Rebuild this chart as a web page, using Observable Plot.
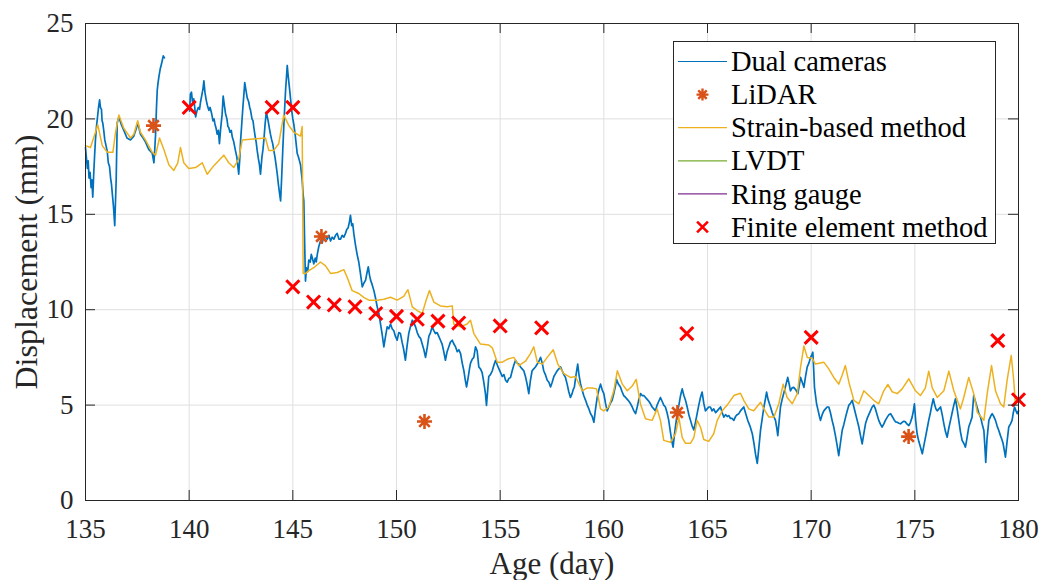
<!DOCTYPE html>
<html><head><meta charset="utf-8">
<script src="https://cdn.jsdelivr.net/npm/d3@7"></script>
<script src="https://cdn.jsdelivr.net/npm/@observablehq/plot@0.6"></script>
<style>
body{margin:0;background:#fff;}
#chart{position:relative;width:1043px;height:580px;}
</style>
</head><body><div id="chart"></div>
<script>
// ---------- data ----------
const xTicks = [135, 140, 145, 150, 155, 160, 165, 170, 175, 180];
const yTicks = [0, 5, 10, 15, 20, 25];

const dualDays = [135.00,135.05,135.09,135.13,135.17,135.22,135.27,135.31,135.35,135.40,135.44,135.48,135.53,135.58,135.63,135.68,135.72,135.77,135.80,135.83,135.88,135.93,135.99,136.05,136.10,136.16,136.21,136.25,136.30,136.35,136.41,136.45,136.48,136.53,136.61,136.73,136.85,137.00,137.17,137.33,137.45,137.52,137.65,137.78,137.89,138.05,138.22,138.30,138.34,138.38,138.42,138.46,138.50,138.54,138.60,138.67,138.71,138.75,138.81,139.40,
140.02,140.06,140.11,140.16,140.22,140.27,140.31,140.37,140.44,140.50,140.55,140.62,140.67,140.71,140.76,140.82,140.88,140.95,141.01,141.08,141.15,141.20,141.24,141.30,141.35,141.41,141.46,141.52,141.59,141.64,141.70,141.75,141.82,141.87,141.91,141.97,142.03,142.08,142.15,142.23,142.30,142.35,142.39,142.44,142.48,142.54,142.59,142.64,142.68,142.74,142.80,142.87,142.92,142.96,143.03,143.08,143.12,143.18,143.23,143.28,143.34,143.39,143.44,143.51,143.56,143.60,143.66,143.72,143.77,143.81,143.87,143.92,143.98,144.03,144.08,144.14,144.19,144.25,144.30,144.36,144.41,144.46,144.52,144.58,144.65,144.70,144.73,144.78,144.84,144.89,144.95,145.00,145.05,145.11,145.16,145.21,145.27,145.32,145.37,145.41,145.45,145.50,145.53,145.58,
145.61,145.66,145.72,145.77,145.84,145.89,145.93,146.01,146.08,146.13,146.18,146.25,146.33,146.42,146.50,146.58,146.66,146.74,146.82,146.90,146.98,147.06,147.14,147.22,147.30,147.38,147.46,147.54,147.60,147.67,147.73,147.78,147.84,147.89,147.94,148.02,148.10,148.18,148.26,148.35,148.43,148.51,148.57,148.64,148.70,148.75,148.83,148.91,148.99,149.07,149.15,149.23,149.31,149.39,149.47,149.55,149.63,149.71,149.79,149.87,149.95,150.03,150.11,150.19,150.27,150.35,150.43,150.51,150.59,150.67,150.76,150.84,150.92,151.00,151.08,151.16,151.24,151.32,151.40,151.48,151.56,151.64,151.72,151.80,151.88,151.96,152.04,152.12,152.20,152.28,152.36,152.44,152.52,152.60,152.69,152.77,152.85,152.93,153.01,153.09,153.17,153.25,153.32,153.38,153.45,153.52,153.57,153.65,153.73,153.81,153.89,153.97,
154.05,154.13,154.21,154.29,154.34,154.40,154.45,154.53,154.62,154.70,154.78,154.86,154.94,155.02,155.10,155.18,155.26,155.34,155.42,155.50,155.58,155.66,155.74,155.82,155.90,155.98,156.06,156.14,156.22,156.30,156.38,156.46,156.54,156.62,156.70,156.79,156.87,156.95,157.03,157.10,157.18,157.27,157.35,157.43,157.51,157.59,157.67,157.75,157.83,157.91,157.99,158.07,158.15,158.23,158.31,158.39,158.47,158.52,158.58,158.66,158.74,158.80,158.87,158.95,159.03,159.12,159.20,159.28,159.36,159.44,159.52,159.60,159.68,159.76,159.84,159.92,160.00,160.08,160.16,160.24,160.32,160.40,160.48,160.56,160.61,160.70,160.80,160.88,160.96,161.05,161.13,161.21,161.29,161.37,161.45,161.53,161.61,161.69,161.77,161.85,161.93,162.01,162.09,162.17,162.25,162.33,162.41,162.49,162.57,162.65,162.73,162.81,162.89,162.97,163.05,163.13,163.21,163.28,163.34,163.40,163.47,163.54,163.62,163.70,163.78,163.86,163.94,
164.02,164.10,164.18,164.26,164.34,164.42,164.50,164.58,164.66,164.74,164.82,164.90,164.98,165.06,165.14,165.22,165.30,165.39,165.47,165.55,165.63,165.71,165.79,165.87,165.95,166.03,166.11,166.19,166.27,166.35,166.43,166.51,166.59,166.67,166.75,166.83,166.94,167.05,167.16,167.24,167.32,167.40,167.48,167.56,167.64,167.72,167.79,167.85,167.92,167.98,168.04,168.12,168.20,168.28,168.34,168.39,168.45,168.52,168.60,168.65,168.71,168.79,168.87,168.94,169.00,169.08,169.16,169.26,169.36,169.42,169.49,169.57,169.65,169.73,169.81,169.89,169.97,170.02,170.08,170.12,170.16,170.21,170.26,170.34,170.40,170.45,170.53,170.61,170.69,170.77,170.85,170.93,171.01,171.09,171.17,171.25,171.33,171.41,171.50,171.58,171.66,171.74,171.82,171.90,171.98,
172.06,172.14,172.22,172.30,172.38,172.46,172.54,172.62,172.70,172.78,172.86,172.94,173.02,173.10,173.18,173.26,173.34,173.42,173.50,173.58,173.67,173.75,173.83,173.91,173.99,174.07,174.15,174.23,174.31,174.39,174.47,174.55,174.63,174.71,174.79,174.87,174.93,174.98,175.04,175.11,175.19,175.27,175.36,175.44,175.52,175.60,175.67,175.75,175.82,175.89,175.96,176.02,176.08,176.16,176.24,176.32,176.40,176.48,176.56,176.64,176.72,176.80,176.88,176.96,177.04,177.12,177.20,177.28,177.36,177.44,177.52,177.60,177.68,177.76,177.84,177.92,178.00,178.08,178.17,178.25,178.33,178.38,178.42,178.48,178.57,178.65,178.73,178.81,178.89,178.97,179.05,179.13,179.20,179.26,179.32,179.37,179.45,179.53,179.61,179.69,179.75,179.81,179.88,179.94,180.00];

const dualVals = [18.5,17.9,17.4,17.8,16.9,17.2,16.4,16.8,15.9,17.2,18.1,18.9,19.6,20.1,20.6,21.0,20.6,20.5,19.9,19.8,19.4,18.9,18.6,18.3,17.7,17.5,16.9,16.6,16.0,15.4,14.4,15.8,16.8,19.8,20.1,19.7,19.4,19.0,18.9,19.1,19.5,19.8,19.2,19.0,18.8,18.4,18.2,17.7,18.4,19.2,20.5,21.5,21.9,22.2,22.6,22.9,23.1,23.3,23.2,null,
20.4,21.3,21.4,20.9,21.05,20.6,20.1,20.4,20.6,20.5,20.9,21.3,21.6,22.0,21.4,21.0,20.7,20.45,20.6,20.3,19.9,20.0,19.75,19.5,19.2,19.4,18.7,19.5,20.25,21.2,20.7,20.3,20.0,19.6,19.55,19.3,19.4,19.05,18.8,18.35,18.0,17.5,17.1,17.9,18.85,19.8,20.6,21.3,21.9,21.5,21.1,20.9,20.6,20.45,20.0,19.9,19.55,19.1,18.8,18.35,17.9,17.6,17.1,18.0,18.4,18.85,19.7,20.35,20.1,19.9,19.5,19.2,18.9,18.7,18.35,18.0,17.6,17.1,16.6,16.1,15.7,16.9,18.5,20.0,21.5,22.3,22.8,22.2,21.6,21.05,20.4,20.0,19.7,19.2,18.7,18.2,18.0,17.8,17.6,17.2,16.8,16.0,15.7,13.0,
11.5,12.2,12.0,12.6,12.5,12.9,12.75,12.4,12.7,12.5,12.9,13.3,13.6,13.5,13.9,13.8,13.7,13.9,13.6,13.8,13.7,13.9,14.0,13.7,13.7,13.9,13.8,14.0,14.2,14.3,14.6,14.95,14.4,14.5,14.0,13.4,12.9,12.5,11.9,11.2,11.4,11.55,11.9,12.25,11.8,11.55,11.3,11.0,10.6,10.15,9.8,9.25,8.7,8.05,8.6,9.1,9.0,9.25,9.0,8.9,8.6,8.4,8.8,8.75,8.3,7.9,7.35,8.1,8.75,9.1,9.45,9.3,9.1,8.8,8.6,8.5,8.2,7.9,7.5,8.0,8.6,8.8,9.1,8.9,8.75,8.8,8.6,8.4,8.2,7.8,7.35,7.8,8.05,8.3,8.4,8.2,8.05,7.8,7.9,7.7,7.2,6.8,6.3,5.95,6.4,6.9,7.2,7.4,7.5,8.05,7.85,7.0,
6.9,6.7,6.2,5.6,4.98,5.8,6.5,6.6,6.8,7.1,7.35,7.1,6.9,6.7,6.5,6.6,6.3,6.2,6.4,6.45,6.8,7.1,7.35,7.2,7.15,7.0,6.9,6.8,6.5,6.1,5.6,6.3,6.8,6.9,7.0,7.15,7.3,7.5,7.2,6.8,6.6,6.3,6.2,5.95,6.2,6.5,6.65,6.8,6.9,7.0,6.8,6.6,6.45,6.1,5.7,5.4,5.6,5.8,5.95,6.6,7.15,6.6,6.15,5.8,5.5,5.25,5.0,4.8,4.55,4.4,4.1,4.8,5.4,5.8,6.1,5.8,5.6,5.1,4.7,4.9,5.1,5.25,5.6,6.0,6.35,6.1,5.95,5.7,5.5,5.4,5.3,5.2,5.07,4.9,4.7,4.55,4.9,5.3,5.6,5.5,5.5,5.4,5.3,5.2,5.07,4.9,4.8,4.7,5.0,5.2,5.4,5.2,5.0,4.9,4.6,4.2,3.6,3.1,2.8,3.4,4.0,4.55,5.0,5.5,5.85,5.5,5.25,
4.9,4.5,4.2,3.9,3.7,4.1,4.55,5.0,5.4,5.68,5.1,4.7,4.8,4.9,4.9,4.7,4.8,4.6,4.7,4.8,4.9,4.6,4.37,4.5,4.4,4.45,4.3,4.3,4.2,4.4,4.5,4.55,4.7,4.8,4.9,4.6,4.2,3.9,3.5,3.0,2.4,1.95,2.8,3.7,4.3,4.9,5.3,5.68,5.3,5.1,4.9,4.6,4.4,4.2,3.8,3.4,4.1,4.9,5.3,5.5,5.75,6.1,6.45,6.1,5.75,5.9,5.93,5.8,5.6,6.0,6.45,6.2,5.93,6.5,7.0,7.2,7.5,7.6,7.77,6.9,5.93,5.5,5.07,4.7,4.4,4.2,4.5,4.7,4.8,4.9,4.9,4.6,4.2,3.85,3.4,2.9,2.35,3.0,3.7,4.0,4.37,4.7,5.0,5.1,5.25,
4.9,4.55,4.2,3.85,3.4,2.97,3.5,4.02,4.3,4.5,4.7,4.9,5.0,4.8,4.5,4.2,4.0,3.85,4.0,4.2,4.37,4.5,4.55,4.4,4.25,4.12,4.1,4.05,4.02,4.1,4.15,4.12,4.0,3.93,4.1,4.37,4.7,5.07,4.2,3.5,3.1,2.8,2.45,2.9,3.35,3.8,4.2,4.6,5.0,5.33,5.0,4.8,4.7,4.8,4.9,4.5,4.02,3.6,3.32,3.8,4.2,4.6,5.0,5.33,4.8,4.2,3.6,3.15,3.0,2.8,3.3,3.85,4.1,4.37,5.5,5.2,4.9,4.6,4.37,4.0,3.67,2.8,2.0,3.2,4.2,4.4,4.55,4.4,4.2,3.9,3.67,3.4,3.2,2.97,2.6,2.27,3.1,3.85,4.0,4.2,4.6,4.9,4.7,4.55,4.7];

const strainDays = [135.00,135.24,135.48,135.59,135.81,136.05,136.32,136.45,136.61,136.85,137.17,137.33,137.52,137.65,137.89,138.22,138.38,138.57,138.78,139.02,139.26,139.45,139.58,139.74,139.98,140.31,140.63,140.87,141.19,141.67,141.91,142.15,142.39,142.56,143.68,143.84,144.08,144.32,144.56,144.81,145.05,145.37,145.45,145.50,145.61,145.77,146.01,146.33,146.58,146.82,147.14,147.46,147.62,147.86,148.18,148.42,148.66,149.07,149.39,149.71,150.03,150.35,150.55,150.76,151.00,151.24,151.43,151.59,151.80,152.12,152.45,152.69,152.76,153.09,153.41,153.57,153.73,154.05,154.45,154.62,154.86,155.10,155.34,155.66,155.90,156.22,156.46,156.62,156.79,157.03,157.27,157.56,157.78,158.07,158.39,158.63,158.96,159.20,159.44,159.65,159.84,160.00,160.24,160.48,160.65,160.89,161.13,161.37,161.56,161.77,162.01,162.33,162.57,162.73,162.89,163.21,163.46,163.62,163.78,163.94,164.18,164.34,164.50,164.66,164.82,165.06,165.30,165.47,165.71,165.95,166.27,166.59,166.75,166.99,167.23,167.56,167.72,167.96,168.20,168.44,168.65,168.84,169.09,169.33,169.49,169.65,169.81,170.05,170.21,170.61,170.85,171.09,171.33,171.49,171.65,171.82,172.06,172.30,172.54,172.78,173.02,173.26,173.50,173.70,173.91,174.15,174.39,174.71,175.03,175.27,175.51,175.67,175.84,176.08,176.40,176.64,176.88,177.20,177.36,177.60,177.84,178.01,178.33,178.49,178.70,178.89,179.13,179.29,179.45,179.65,179.77,179.85,180.00];

const strainVals = [18.6,18.5,19.3,19.7,18.6,18.25,18.25,19.3,20.2,19.5,19.0,19.2,19.9,19.3,18.9,18.25,18.1,19.0,18.4,17.6,17.3,17.7,18.5,17.7,17.4,17.45,17.7,17.1,17.55,18.1,17.7,17.45,17.9,18.9,19.0,18.35,18.35,18.7,20.2,19.65,19.3,19.1,19.6,11.9,11.9,12.05,12.2,12.5,12.3,11.9,11.95,12.1,11.7,11.0,10.85,10.65,10.5,10.5,10.55,10.65,10.5,10.7,11.05,10.15,9.95,9.8,10.5,11.0,10.4,10.2,10.15,10.2,9.25,9.1,9.25,9.45,8.75,8.2,8.15,8.0,7.25,7.25,7.4,7.5,7.07,7.3,7.7,8.05,7.25,7.15,7.5,7.9,7.15,6.65,6.45,6.5,5.75,5.9,5.9,5.85,4.8,4.7,4.9,5.75,6.8,6.1,5.75,6.0,6.35,5.05,4.28,4.2,4.8,4.2,3.15,3.05,3.5,4.35,3.3,3.0,3.0,3.3,4.2,3.85,3.2,3.1,3.5,4.2,4.7,5.0,5.5,5.62,5.25,4.8,4.7,5.15,4.8,4.37,4.37,5.07,6.1,5.4,5.07,5.6,7.0,8.1,7.5,7.45,7.15,7.25,6.9,6.45,6.1,6.55,7.07,6.2,5.25,5.07,5.75,5.5,5.25,5.07,5.75,6.08,5.7,5.6,5.85,6.38,5.75,5.5,5.9,6.78,5.9,5.4,5.75,6.78,5.75,4.8,5.4,6.45,5.6,4.63,4.2,5.6,7.07,5.75,5.07,4.9,6.3,7.6,6.3,5.07,5.25];

const lidarDays = [138.28, 146.38, 151.35, 163.55, 174.70];
const lidarVals = [19.65, 13.84, 4.14, 4.61, 3.35];

const femDays = [140, 144, 145, 145, 146, 147, 148, 149, 150, 151, 152, 153, 155, 157, 164, 170, 179, 180];
const femVals = [20.6, 20.6, 20.6, 11.2, 10.4, 10.25, 10.15, 9.8, 9.65, 9.5, 9.4, 9.3, 9.15, 9.05, 8.75, 8.55, 8.38, 5.28];

const seriesNames = ["Dual cameras", "LiDAR", "Strain-based method", "LVDT", "Ring gauge", "Finite element method"];
const seriesColors = ["#0072BD", "#D95319", "#EDB120", "#77AC30", "#7E2F8E", "#FF0000"];
const seriesKinds = ["line", "asterisk", "line", "line", "line", "times"];

// ---------- rows ----------
const dual = dualDays.map((d, i) => ({day: d, val: dualVals[i]}));
const strain = strainDays.map((d, i) => ({day: d, val: strainVals[i]}));
const lidar = lidarDays.map((d, i) => ({day: d, val: lidarVals[i]}));
const fem = femDays.map((d, i) => ({day: d, val: femVals[i]}));

const asterisk = {
  draw(ctx, size) {
    const r = Math.sqrt(size / Math.PI), d = r * Math.SQRT1_2;
    ctx.moveTo(-r, 0); ctx.lineTo(r, 0);
    ctx.moveTo(0, -r); ctx.lineTo(0, r);
    ctx.moveTo(-d, -d); ctx.lineTo(d, d);
    ctx.moveTo(-d, d); ctx.lineTo(d, -d);
  }
};

const W = 1043, H = 580, mL = 85, mR = 25, mT = 23, mB = 80;
const FONT = "'Times New Roman', 'Liberation Serif', serif";
const ink = "#262626";
const tickPx = 10;
const xPerPx = (180 - 135) / (W - mL - mR);
const yPerPx = (25 - 0) / (H - mT - mB);

const chart = Plot.plot({
  width: W, height: H,
  marginLeft: mL, marginRight: mR, marginTop: mT, marginBottom: mB,
  style: {fontFamily: FONT, color: ink, background: "#fff"},
  x: {domain: [135, 180]},
  y: {domain: [0, 25]},
  marks: [
    Plot.gridX(xTicks, {stroke: "#dfdfdf", strokeOpacity: 1}),
    Plot.gridY(yTicks, {stroke: "#dfdfdf", strokeOpacity: 1}),
    Plot.line(dual, {x: "day", y: "val", stroke: "#0072BD", strokeWidth: 1.7}),
    Plot.dot(lidar, {x: "day", y: "val", symbol: asterisk, r: 7.5, stroke: "#D95319", fill: "none", strokeWidth: 2.6}),
    Plot.line(strain, {x: "day", y: "val", stroke: "#EDB120", strokeWidth: 1.5}),
    Plot.dot(fem, {x: "day", y: "val", symbol: "times", r: 6, stroke: "#FF0000", strokeWidth: 3}),
    // inward ticks on all four sides
    Plot.ruleX(xTicks, {x: d => d, y1: 0, y2: tickPx * yPerPx, stroke: ink}),
    Plot.ruleX(xTicks, {x: d => d, y1: 25 - tickPx * yPerPx, y2: 25, stroke: ink}),
    Plot.ruleY(yTicks, {y: d => d, x1: 135, x2: 135 + tickPx * xPerPx, stroke: ink}),
    Plot.ruleY(yTicks, {y: d => d, x1: 180 - tickPx * xPerPx, x2: 180, stroke: ink}),
    Plot.frame({stroke: ink, strokeWidth: 1}),
    Plot.axisX(xTicks, {anchor: "bottom", tickSize: 0, tickPadding: 18, fontSize: 27, label: null}),
    Plot.axisY(yTicks, {anchor: "left", tickSize: 0, tickPadding: 12, fontSize: 27, label: null}),
    Plot.text(["Age (day)"], {frameAnchor: "bottom", dy: 64, lineAnchor: "middle", textAnchor: "middle", fontSize: 31, fill: ink}),
    Plot.text(["Displacement (mm)"], {frameAnchor: "left", dx: -59, rotate: -90, textAnchor: "middle", lineAnchor: "middle", fontSize: 32, fill: ink})
  ]
});
document.getElementById("chart").appendChild(chart);

// ---------- legend ----------
const svg = d3.select(chart);
const lg = svg.append("g").attr("font-family", FONT).attr("text-anchor", "start");
const lx = 673, ly = 41, lw = 322, lh = 202, rowH = 33.1, row0 = 61.5;
lg.append("rect").attr("x", lx + 0.5).attr("y", ly + 0.5).attr("width", lw).attr("height", lh)
  .attr("fill", "#fff").attr("stroke", ink).attr("stroke-width", 1);
seriesNames.forEach((name, i) => {
  const cy = row0 + i * rowH;
  const kind = seriesKinds[i], col = seriesColors[i];
  if (kind === "line") {
    lg.append("line").attr("x1", 678).attr("x2", 727).attr("y1", cy).attr("y2", cy)
      .attr("stroke", col).attr("stroke-width", 1.2);
  } else if (kind === "asterisk") {
    const p = d3.path(); asterisk.draw(p, Math.PI * 6 * 6);
    lg.append("path").attr("d", p.toString()).attr("transform", `translate(702.5,${cy})`)
      .attr("stroke", col).attr("stroke-width", 2.4).attr("fill", "none");
  } else {
    lg.append("path").attr("d", d3.symbol(d3.symbolTimes, Math.PI * 25)()).attr("transform", `translate(702.5,${cy})`)
      .attr("stroke", col).attr("stroke-width", 2.6).attr("fill", "none");
  }
  lg.append("text").attr("x", 731).attr("y", cy).attr("dy", "0.34em").attr("text-anchor", "start")
    .attr("font-size", 28.5).attr("fill", "#000").text(name);
});
</script>
</body></html>
